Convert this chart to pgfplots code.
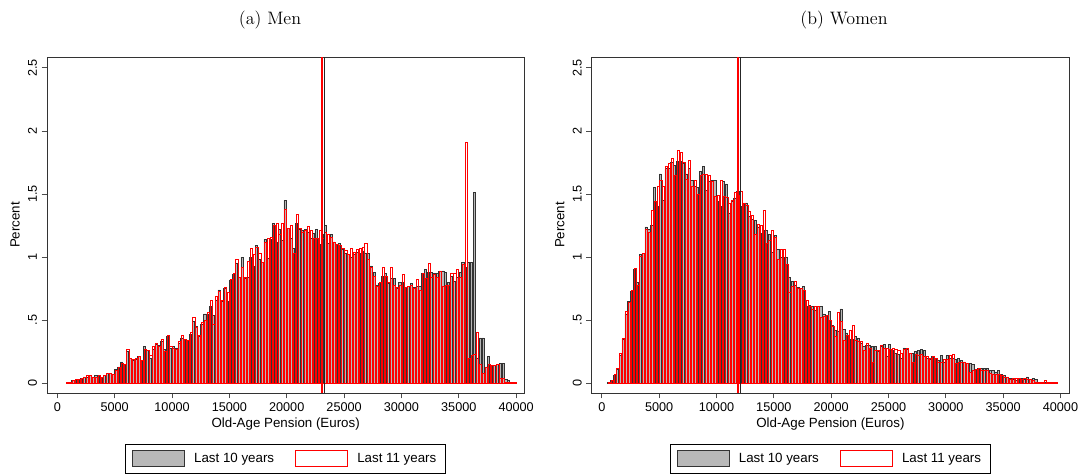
\documentclass[border=0pt]{standalone}
\usepackage{fontspec}
\usepackage{pgfplots}
\pgfplotsset{compat=1.18}
\usepackage{pgfplotstable}
\newfontfamily\arial{Liberation Sans}

\pgfplotstableread{
x b r
875 0.01 0.01
1125 0.01 0.01
1375 0.02 0.02
1625 0.02 0.03
1875 0.03 0.03
2125 0.04 0.04
2375 0.05 0.05
2625 0.05 0.06
2875 0.06 0.06
3125 0.05 0.05
3375 0.06 0.05
3625 0.06 0.06
3875 0.04 0.05
4125 0.06 0.06
4375 0.08 0.08
4625 0.08 0.08
4875 0.07 0.07
5125 0.11 0.10
5375 0.13 0.13
5625 0.17 0.16
5875 0.15 0.15
6125 0.25 0.27
6375 0.20 0.20
6625 0.18 0.19
6875 0.19 0.20
7125 0.21 0.21
7375 0.18 0.18
7625 0.29 0.27
7875 0.26 0.26
8125 0.20 0.22
8375 0.27 0.29
8625 0.31 0.32
8875 0.30 0.29
9125 0.33 0.35
9375 0.27 0.25
9625 0.37 0.38
9875 0.28 0.29
10125 0.29 0.28
10375 0.28 0.27
10625 0.32 0.33
10875 0.36 0.38
11125 0.34 0.35
11375 0.33 0.34
11625 0.39 0.40
11875 0.49 0.52
12125 0.45 0.44
12375 0.37 0.38
12625 0.47 0.48
12875 0.55 0.50
13125 0.55 0.56
13375 0.61 0.66
13625 0.54 0.47
13875 0.66 0.69
14125 0.74 0.73
14375 0.65 0.66
14625 0.75 0.76
14875 0.65 0.72
15125 0.82 0.82
15375 0.86 0.87
15625 0.95 0.98
15875 0.84 0.84
16125 1.00 0.92
16375 0.83 0.84
16625 0.84 0.97
16875 1.00 1.07
17125 0.93 1.02
17375 1.09 1.08
17625 0.98 1.03
17875 0.96 0.96
18125 1.14 1.12
18375 0.99 1.15
18625 1.14 1.16
18875 1.27 1.25
19125 1.12 1.27
19375 1.22 1.18
19625 1.13 1.27
19875 1.45 1.38
20125 1.23 1.23
20375 1.15 1.25
20625 1.07 1.03
20875 1.27 1.34
21125 1.22 1.23
21375 1.21 1.20
21625 1.22 1.21
21875 1.20 1.24
22125 1.15 1.21
22375 1.19 1.15
22625 1.22 1.15
22875 1.10 1.21
23125 1.18 1.15
23375 1.25 1.20
23625 1.11 1.18
23875 1.18 1.16
24125 1.12 1.12
24375 1.10 1.10
24625 1.11 1.09
24875 1.06 1.07
25125 1.03 1.05
25375 1.02 1.02
25625 1.00 1.07
25875 1.02 1.04
26125 1.04 1.06
26375 1.03 1.07
26625 1.05 1.08
26875 1.03 1.11
27125 1.03 0.98
27375 0.93 0.92
27625 0.88 0.85
27875 0.78 0.77
28125 0.79 0.80
28375 0.85 0.92
28625 0.87 0.85
28875 0.79 0.80
29125 0.83 0.92
29375 0.83 0.78
29625 0.75 0.76
29875 0.80 0.78
30125 0.80 0.86
30375 0.76 0.76
30625 0.77 0.77
30875 0.79 0.78
31125 0.76 0.75
31375 0.77 0.82
31625 0.77 0.74
31875 0.87 0.87
32125 0.90 0.83
32375 0.88 0.95
32625 0.88 0.84
32875 0.87 0.86
33125 0.87 0.84
33375 0.89 0.89
33625 0.89 0.77
33875 0.88 0.78
34125 0.80 0.78
34375 0.85 0.87
34625 0.81 0.87
34875 0.84 0.90
35125 0.88 0.84
35375 0.96 0.94
35625 0.92 1.91
35875 0.96 0.20
36125 0.96 0.22
36375 1.51 0.23
36625 0.20 0.40
36875 0.36 0.15
37125 0.36 0.08
37375 0.13 0.13
37625 0.21 0.15
37875 0.14 0.14
38125 0.14 0.14
38375 0.15 0.15
38625 0.16 0.04
38875 0.16 0.04
39125 0.03 0.01
39375 0.02 0.01
39625 0.01 0.01
39875 0.01 0.01
}\men

\pgfplotstableread{
x b r
625 0.005 0.01
875 0.02 0.02
1125 0.06 0.07
1375 0.11 0.12
1625 0.22 0.24
1875 0.35 0.36
2125 0.55 0.57
2375 0.65 0.64
2625 0.73 0.74
2875 0.90 0.91
3125 0.80 0.78
3375 1.02 1.01
3625 1.03 1.03
3875 1.24 1.22
4125 1.22 1.20
4375 1.25 1.37
4625 1.55 1.44
4875 1.40 1.56
5125 1.66 1.61
5375 1.45 1.56
5625 1.70 1.72
5875 1.70 1.74
6125 1.75 1.78
6375 1.73 1.65
6625 1.76 1.85
6875 1.76 1.83
7125 1.74 1.75
7375 1.66 1.62
7625 1.70 1.77
7875 1.61 1.56
8125 1.56 1.61
8375 1.55 1.50
8625 1.68 1.65
8875 1.72 1.66
9125 1.53 1.66
9375 1.60 1.65
9625 1.61 1.60
9875 1.61 1.48
10125 1.44 1.49
10375 1.40 1.61
10625 1.60 1.48
10875 1.58 1.47
11125 1.35 1.43
11375 1.44 1.45
11625 1.47 1.51
11875 1.52 1.49
12125 1.40 1.52
12375 1.43 1.43
12625 1.43 1.41
12875 1.32 1.36
13125 1.30 1.33
13375 1.29 1.18
13625 1.24 1.26
13875 1.19 1.25
14125 1.21 1.37
14375 1.21 1.11
14625 1.18 1.13
14875 1.04 1.21
15125 1.17 1.16
15375 1.06 0.98
15625 1.00 1.06
15875 1.00 1.06
16125 1.00 0.94
16375 0.84 0.72
16625 0.81 0.77
16875 0.78 0.81
17125 0.76 0.75
17375 0.75 0.75
17625 0.77 0.74
17875 0.61 0.66
18125 0.62 0.61
18375 0.61 0.59
18625 0.58 0.61
18875 0.61 0.61
19125 0.61 0.52
19375 0.55 0.53
19625 0.54 0.54
19875 0.57 0.50
20125 0.46 0.45
20375 0.42 0.37
20625 0.41 0.56
20875 0.59 0.49
21125 0.43 0.34
21375 0.40 0.38
21625 0.35 0.42
21875 0.35 0.46
22125 0.37 0.34
22375 0.36 0.33
22625 0.32 0.33
22875 0.29 0.26
23125 0.30 0.32
23375 0.30 0.28
23625 0.29 0.17
23875 0.29 0.26
24125 0.25 0.26
24375 0.29 0.30
24625 0.31 0.28
24875 0.21 0.28
25125 0.31 0.27
25375 0.26 0.28
25625 0.24 0.27
25875 0.23 0.26
26125 0.20 0.24
26375 0.28 0.27
26625 0.27 0.28
26875 0.24 0.24
27125 0.24 0.17
27375 0.25 0.23
27625 0.26 0.22
27875 0.27 0.23
28125 0.26 0.21
28375 0.20 0.21
28625 0.19 0.20
28875 0.21 0.21
29125 0.20 0.20
29375 0.18 0.17
29625 0.22 0.17
29875 0.17 0.19
30125 0.22 0.19
30375 0.20 0.22
30625 0.20 0.23
30875 0.19 0.16
31125 0.20 0.17
31375 0.18 0.17
31625 0.17 0.17
31875 0.16 0.16
32125 0.16 0.09
32375 0.15 0.10
32625 0.10 0.11
32875 0.12 0.12
33125 0.12 0.10
33375 0.12 0.10
33625 0.12 0.10
33875 0.10 0.08
34125 0.10 0.07
34375 0.09 0.07
34625 0.10 0.07
34875 0.07 0.06
35125 0.06 0.05
35375 0.05 0.05
35625 0.04 0.03
35875 0.03 0.04
36125 0.02 0.04
36375 0.04 0.04
36625 0.04 0.03
36875 0.03 0.04
37125 0.05 0.03
37375 0.03 0.03
37625 0.04 0.02
37875 0.03 0.01
38125 0.01 0.01
38375 0.01 0.01
38625 0.01 0.02
38875 0.01 0.01
39125 0.005 0.005
39375 0 0.005
39625 0 0.005
}\women

\pgfplotsset{
  histax/.style={
    scale only axis, width=358pt, height=252pt,
    ymin=-0.077, ymax=2.586,
    scaled x ticks=false, scaled y ticks=false,
    xtick={0,5000,10000,15000,20000,25000,30000,35000,40000},
    xticklabels={0,5000,10000,15000,20000,25000,30000,35000,40000},
    ytick={0,0.5,1,1.5,2,2.5},
    yticklabels={0,.5,1,1.5,2,2.5},
    tick align=outside, major tick length=4pt,
    xtick pos=bottom, ytick pos=left,
    tick style={black!70, line width=0.6pt},
    axis line style={black!80, line width=0.7pt},
    ticklabel style={font=\arial\fontsize{9.5}{11}\selectfont},
    yticklabel style={rotate=90, anchor=south},
    label style={font=\arial\fontsize{10}{12}\selectfont},
    xlabel={Old-Age Pension (Euros)}, ylabel={Percent},
    xlabel style={at={(axis description cs:0.5,-0.0923)}, anchor=center},
    ylabel style={at={(axis description cs:-0.067,0.5)}, anchor=center},
    legend columns=2,
    legend style={at={(0.5,-0.152)}, anchor=north, draw=black, line width=0.6pt,
      font=\arial\fontsize{10}{12}\selectfont,
      inner xsep=5pt, inner ysep=4.5pt,
      /tikz/every even column/.append style={column sep=14pt}},
  },
  blk/.style={ybar, bar width=190, bar shift=-0.2pt, fill=black!28, draw=black!80, line width=0.45pt,
    legend image code/.code={\draw[##1, line width=0.7pt] (0pt,-6pt) rectangle (39pt,6pt); \path[draw=none,fill=none] (0pt,0pt) -- (44pt,0pt);}},
  rd/.style={ybar, bar width=190, bar shift=0.2pt, fill=none, draw=red, line width=0.5pt,
    legend image code/.code={\draw[##1, line width=0.7pt] (0pt,-6pt) rectangle (39pt,6pt); \path[draw=none,fill=none] (0pt,0pt) -- (44pt,0pt);}},
  meanr/.style={draw=red, line width=1.3pt, no marks, sharp plot, forget plot},
  meanb/.style={draw=black!85, line width=1pt, no marks, sharp plot, forget plot},
}

\begin{document}
\begin{tikzpicture}
\useasboundingbox (0,0) rectangle (813pt,356.25pt);
\node[font=\fontsize{13.5}{16}\selectfont] at (202.5pt,341pt) {(a) Men};
\node[font=\fontsize{13.5}{16}\selectfont] at (633pt,341pt) {(b) Women};

\begin{axis}[histax, at={(35.25pt,61.5pt)}, anchor=south west, xmin=-900, xmax=40715]
\addplot[blk] table[x=x,y=b] {\men};
\addlegendentry{Last 10 years}
\addplot[rd] table[x=x,y=r] {\men};
\addlegendentry{Last 11 years}
\addplot[meanr] coordinates {(23052,-0.077) (23052,2.586)};
\addplot[meanb] coordinates {(23313,-0.077) (23313,2.586)};
\end{axis}

\begin{axis}[histax, at={(443.8pt,61.5pt)}, anchor=south west, xmin=-880, xmax=40750]
\addplot[blk] table[x=x,y=b] {\women};
\addlegendentry{Last 10 years}
\addplot[rd] table[x=x,y=r] {\women};
\addlegendentry{Last 11 years}
\addplot[meanr] coordinates {(11867,-0.077) (11867,2.586)};
\addplot[meanb] coordinates {(12068,-0.077) (12068,2.586)};
\end{axis}
\end{tikzpicture}
\end{document}
